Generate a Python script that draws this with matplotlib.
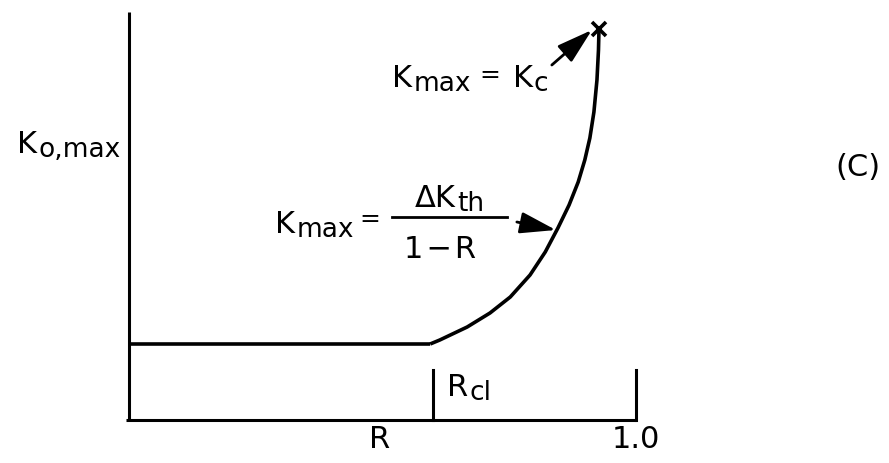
import matplotlib
matplotlib.use("Agg")
import matplotlib.pyplot as plt
from matplotlib.lines import Line2D

plt.rcParams["font.family"] = ["DejaVu Sans"]

# Schematic of the maximum applied stress intensity vs. load ratio R
K0_max = 0.19          # plateau level of K_o,max
R_cl = 0.60            # load ratio where the plateau ends
R_end = 1.0            # right end of the R axis

plateau_R = [0.0, 0.594]
plateau_K = [K0_max, K0_max]

curve_R = [0.594, 0.613, 0.667, 0.712, 0.752, 0.791, 0.821, 0.846,
           0.868, 0.886, 0.899, 0.909, 0.917, 0.923, 0.926, 0.927]
curve_K = [0.19, 0.20, 0.2325, 0.2675, 0.3075, 0.3625, 0.42, 0.48,
           0.5375, 0.595, 0.65, 0.705, 0.77, 0.85, 0.925, 0.9775]

tick_R = [R_cl, R_end]
tick_height = 0.125

W, H = 889, 463
fig = plt.figure(figsize=(W / 100, H / 100), dpi=100)
ax = fig.add_axes([129 / W, 43 / H, 507 / W, 408 / H])
ax.set_xlim(0, 1.0)
ax.set_ylim(0, 1.02)
ax.axis("off")

ink = "black"
lw = 2.2
# axes and the two marks on the R axis
ax.plot([0, 0], [0, 1.02], color=ink, lw=lw, clip_on=False, solid_capstyle="butt")
ax.plot([-0.006, R_end], [0, 0], color=ink, lw=lw, clip_on=False, solid_capstyle="butt")
for r in tick_R:
    ax.plot([r, r], [0, tick_height], color=ink, lw=lw, clip_on=False)

# plateau and rising branch
ax.plot(plateau_R, plateau_K, color=ink, lw=2.6, clip_on=False, solid_capstyle="butt")
ax.plot(curve_R, curve_K, color=ink, lw=2.6, clip_on=False,
        solid_capstyle="butt", solid_joinstyle="round")
ax.plot([curve_R[-1]], [curve_K[-1]], marker="x", ms=10, mew=2.6, color=ink, clip_on=False)

FS_MAIN, FS_SUB = 22, 19


def sub_label(x, y, main, sub, drop=1.5):
    """Main text with a large, slightly dropped subscript; (x, y) is the main text's left baseline."""
    t = ax.text(x, y, main, fontsize=FS_MAIN, ha="left", va="baseline")
    ax.annotate(sub, xy=(1, 0), xycoords=t, xytext=(0.8, drop),
                textcoords="offset points", fontsize=FS_SUB, ha="left", va="baseline")
    return t


def plain(x, y, s, ha="center", va="center", fs=FS_MAIN):
    return ax.text(x, y, s, fontsize=fs, ha=ha, va=va)


# axis labels
sub_label(-0.221, 0.6675, "K", "o,max")
plain(0.495, -0.05, "R")
plain(R_end, -0.05, "1.0")
sub_label(0.627, 0.06, "R", "cl")
plain(1.438, 0.6325, "(C)")

arrow_style = dict(arrowstyle="-|>,head_length=1.0,head_width=0.3",
                   lw=2, color=ink, shrinkA=0, shrinkB=0, mutation_scale=22)

# K_max = K_c at the end of the branch
sub_label(0.519, 0.8325, "K", "max")
plain(0.712, 0.8625, "=", fs=18)
sub_label(0.757, 0.8325, "K", "c")
ax.annotate("", xy=(0.913, 0.975), xytext=(0.834, 0.8875),
            arrowprops=arrow_style, annotation_clip=False)

# K_max = dK_th / (1 - R) along the branch
sub_label(0.288, 0.4675, "K", "max")
plain(0.475, 0.5025, "=", fs=18)
ax.add_line(Line2D([0.519, 0.746], [0.5075, 0.5075], color=ink, lw=2))
sub_label(0.564, 0.5325, "\u0394K", "th")
plain(0.613, 0.405, "1\u200a\u2212\u200aR", va="baseline")
ax.annotate("", xy=(0.842, 0.475), xytext=(0.765, 0.495),
            arrowprops=arrow_style, annotation_clip=False)

fig.savefig("out.png", dpi=100, facecolor="white")
